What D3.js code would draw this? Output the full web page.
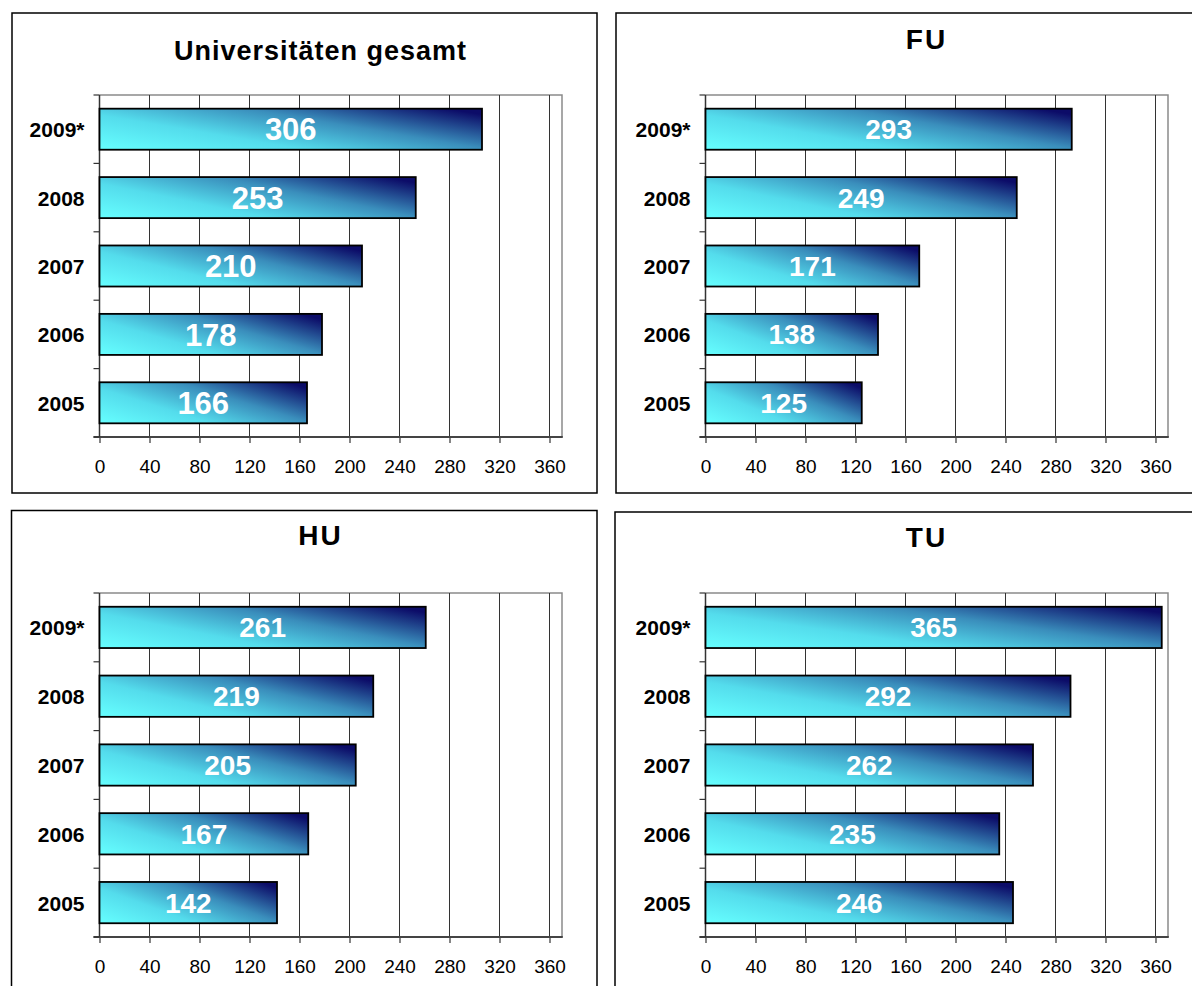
<!DOCTYPE html>
<html>
<head>
<meta charset="utf-8">
<script src="https://cdn.jsdelivr.net/npm/d3@7"></script>
<style>
  body { margin: 0; background: #fff; }
  svg { display: block; font-family: "Liberation Sans", Arial, sans-serif; }
</style>
</head>
<body>
<div id="chart"></div>
<script>
// data
const years = ["2009*", "2008", "2007", "2006", "2005"];
const gesamt = [306, 253, 210, 178, 166];
const fu = [293, 249, 171, 138, 125];
const hu = [261, 219, 205, 167, 142];
const tu = [365, 292, 262, 235, 246];
const titles = ["Universitäten gesamt", "FU", "HU", "TU"];
const xTicks = [0, 40, 80, 120, 160, 200, 240, 280, 320, 360];

const width = 1192, height = 986;

const svg = d3.select("#chart").append("svg")
    .attr("width", width)
    .attr("height", height);

// bar gradient: cyan bottom-left -> navy top-right
const defs = svg.append("defs");
const grad = defs.append("linearGradient")
    .attr("id", "barGrad")
    .attr("x1", 0).attr("y1", 1)
    .attr("x2", 1.1).attr("y2", 0.3);
grad.append("stop").attr("offset", 0).attr("stop-color", "#66ffff");
grad.append("stop").attr("offset", 0.35).attr("stop-color", "#54dcec");
grad.append("stop").attr("offset", 0.66).attr("stop-color", "#3a8ebc");
grad.append("stop").attr("offset", 1).attr("stop-color", "#0c0c68");

const panels = [
    { values: gesamt, title: titles[0], box: [12, 13, 585, 480], left: 99.5, top: 95, bottom: 437, titleY: 59.5, titleSize: 27, labelSize: 31 },
    { values: fu, title: titles[1], box: [616, 13, 600, 480], left: 705.5, top: 95, bottom: 437, titleY: 49, titleSize: 28, labelSize: 28 },
    { values: hu, title: titles[2], box: [11.5, 510.5, 585.5, 500], left: 99.5, top: 593, bottom: 937, titleY: 545, titleSize: 28, labelSize: 28 },
    { values: tu, title: titles[3], box: [615, 512, 600, 500], left: 705.5, top: 593, bottom: 937, titleY: 547, titleSize: 28, labelSize: 28 }
];

panels.forEach(drawPanel);

function drawPanel(p) {
    const g = svg.append("g");

    // panel frame
    g.append("rect")
        .attr("x", p.box[0]).attr("y", p.box[1])
        .attr("width", p.box[2]).attr("height", p.box[3])
        .attr("fill", "#fff")
        .attr("stroke", "#000")
        .attr("stroke-width", 1.5);

    const right = p.left + 462.5;
    const x = d3.scaleLinear().domain([0, 370]).range([p.left, right]);
    const y = d3.scaleBand().domain(years).range([p.top, p.bottom]).paddingInner(0.4).paddingOuter(0.2);

    // title
    g.append("text")
        .attr("x", p.left + 221)
        .attr("y", p.titleY)
        .attr("text-anchor", "middle")
        .attr("font-size", p.titleSize)
        .attr("font-weight", "bold")
        .attr("letter-spacing", p.title.length > 2 ? 1 : 2)
        .text(p.title);

    // plot border (top and right, gray)
    g.append("path")
        .attr("d", `M${p.left},${p.top} H${right} V${p.bottom}`)
        .attr("fill", "none")
        .attr("stroke", "#8a8a8a")
        .attr("stroke-width", 1.5);

    // vertical gridlines
    g.selectAll(".grid")
        .data(xTicks.slice(1))
        .join("line")
        .attr("class", "grid")
        .attr("x1", d => x(d)).attr("x2", d => x(d))
        .attr("y1", p.top).attr("y2", p.bottom)
        .attr("stroke", "#333")
        .attr("stroke-width", 1);

    // x axis
    const xAxis = g.append("g")
        .attr("transform", `translate(0,${p.bottom})`)
        .call(d3.axisBottom(x).tickValues(xTicks).tickSize(6).tickPadding(17));
    xAxis.select(".domain").remove();
    xAxis.selectAll(".tick line").attr("stroke", "#333").attr("stroke-width", 1.2);
    xAxis.selectAll(".tick text")
        .attr("font-family", "'Liberation Sans', Arial, sans-serif")
        .attr("font-size", 19)
        .attr("fill", "#000");
    g.append("line")
        .attr("x1", p.left - 6).attr("x2", right + 0.8)
        .attr("y1", p.bottom).attr("y2", p.bottom)
        .attr("stroke", "#444")
        .attr("stroke-width", 2);

    // y axis line and band boundary ticks
    g.append("line")
        .attr("x1", p.left).attr("x2", p.left)
        .attr("y1", p.top).attr("y2", p.bottom)
        .attr("stroke", "#333")
        .attr("stroke-width", 1.5);
    g.selectAll(".ytick")
        .data(d3.range(years.length + 1))
        .join("line")
        .attr("class", "ytick")
        .attr("x1", p.left - 6).attr("x2", p.left)
        .attr("y1", i => p.top + i * (p.bottom - p.top) / years.length)
        .attr("y2", i => p.top + i * (p.bottom - p.top) / years.length)
        .attr("stroke", "#333")
        .attr("stroke-width", 1.2);

    // year labels
    g.selectAll(".year")
        .data(years)
        .join("text")
        .attr("class", "year")
        .attr("x", p.left - 15)
        .attr("y", d => y(d) + y.bandwidth() / 2 + 8)
        .attr("text-anchor", "end")
        .attr("font-size", 21)
        .attr("font-weight", "bold")
        .text(d => d);

    const rows = years.map((yr, i) => ({ year: yr, value: p.values[i] }));

    // bars
    g.selectAll(".bar")
        .data(rows)
        .join("rect")
        .attr("class", "bar")
        .attr("x", x(0))
        .attr("y", d => y(d.year))
        .attr("width", d => x(d.value) - x(0))
        .attr("height", y.bandwidth())
        .attr("fill", "url(#barGrad)")
        .attr("stroke", "#000")
        .attr("stroke-width", 1.8);

    // value labels
    g.selectAll(".val")
        .data(rows)
        .join("text")
        .attr("class", "val")
        .attr("x", d => (x(0) + x(d.value)) / 2)
        .attr("y", d => y(d.year) + y.bandwidth() / 2 + p.labelSize * 0.36)
        .attr("text-anchor", "middle")
        .attr("font-size", p.labelSize)
        .attr("font-weight", "bold")
        .attr("fill", "#fff")
        .text(d => d.value);
}
</script>
</body>
</html>
